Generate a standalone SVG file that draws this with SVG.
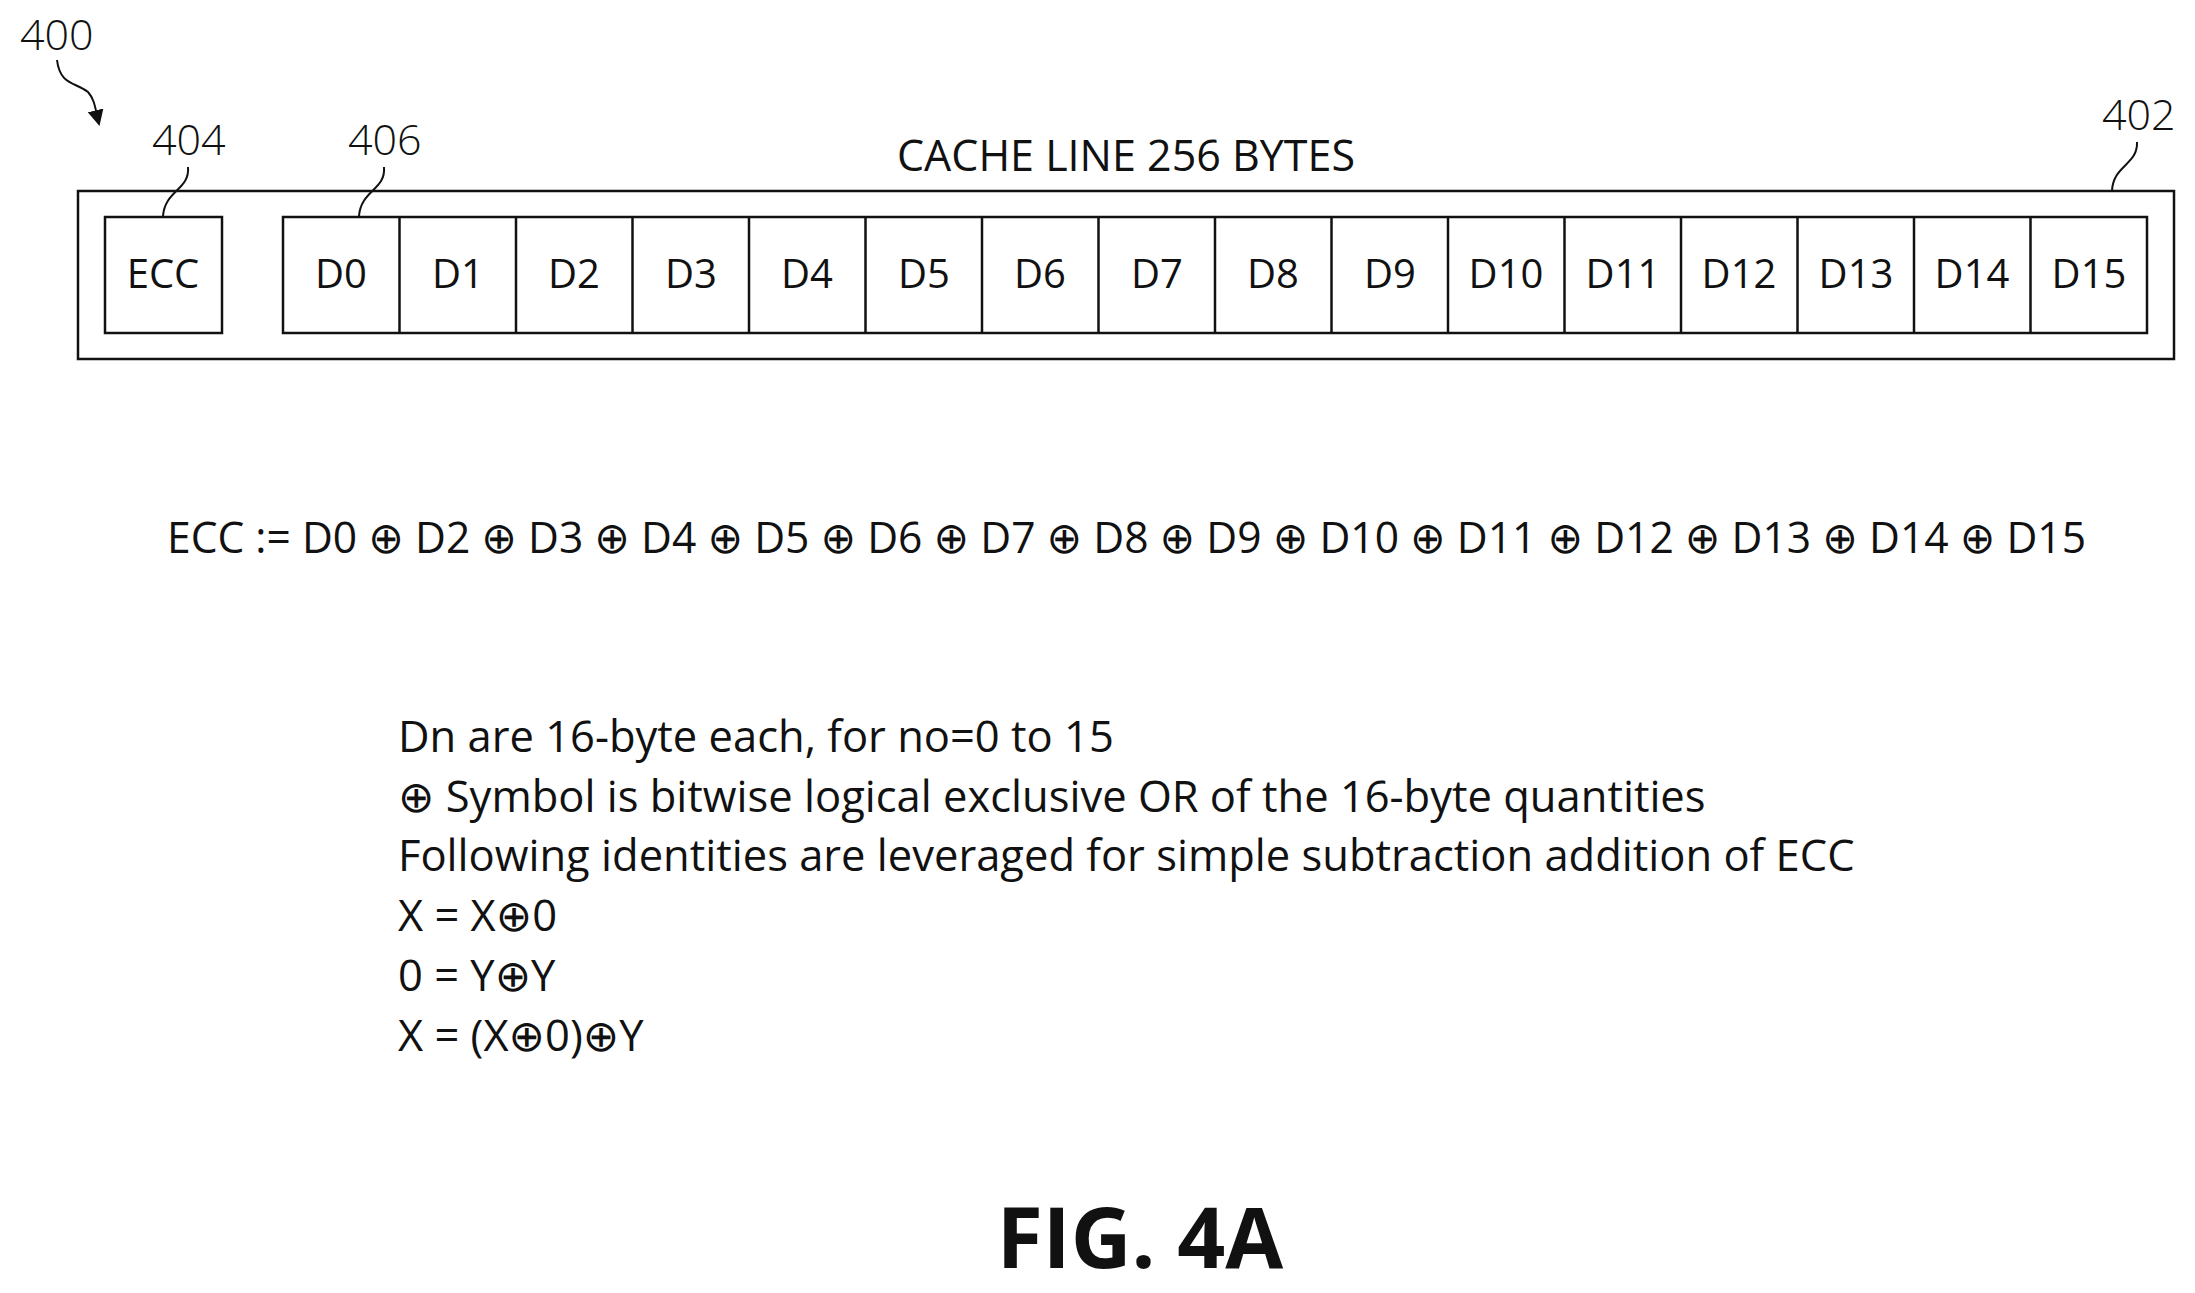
<svg xmlns="http://www.w3.org/2000/svg" width="2195" height="1293" viewBox="0 0 2195 1293">
<style>
text{font-family:"Open Sans","Liberation Sans","DejaVu Sans",sans-serif;fill:#111}
.c{font-size:40px;text-anchor:middle}
.l{font-size:43px;font-weight:300}
.b{fill:#fff;stroke:#111;stroke-width:2.5}
.ld{fill:none;stroke:#111;stroke-width:2}
.t{font-size:43.5px}
</style>
<defs><marker id="ah" markerWidth="16" markerHeight="16" refX="14" refY="8" orient="auto" markerUnits="userSpaceOnUse"><path d="M0,0 L16,8 L0,16 z" fill="#111"/></marker></defs>
<rect width="2195" height="1293" fill="#fff"/>
<g id="cacheline"><rect class="b" x="78" y="191" width="2096" height="168" stroke-width="3"/></g>
<g id="ecc"><rect class="b" x="105" y="217" width="117" height="116"/><text class="c" x="163" y="288">ECC</text></g>
<g id="data">
<rect class="b" x="283" y="217" width="1864" height="116"/>
<g stroke="#111" stroke-width="2.5">
<line x1="399.5" y1="217" x2="399.5" y2="333"/><line x1="516" y1="217" x2="516" y2="333"/><line x1="632.5" y1="217" x2="632.5" y2="333"/><line x1="749" y1="217" x2="749" y2="333"/><line x1="865.5" y1="217" x2="865.5" y2="333"/><line x1="982" y1="217" x2="982" y2="333"/><line x1="1098.5" y1="217" x2="1098.5" y2="333"/><line x1="1215" y1="217" x2="1215" y2="333"/><line x1="1331.5" y1="217" x2="1331.5" y2="333"/><line x1="1448" y1="217" x2="1448" y2="333"/><line x1="1564.5" y1="217" x2="1564.5" y2="333"/><line x1="1681" y1="217" x2="1681" y2="333"/><line x1="1797.5" y1="217" x2="1797.5" y2="333"/><line x1="1914" y1="217" x2="1914" y2="333"/><line x1="2030.5" y1="217" x2="2030.5" y2="333"/>
</g>
<text class="c" x="341" y="288">D0</text><text class="c" x="458" y="288">D1</text><text class="c" x="574" y="288">D2</text><text class="c" x="691" y="288">D3</text><text class="c" x="807" y="288">D4</text><text class="c" x="924" y="288">D5</text><text class="c" x="1040" y="288">D6</text><text class="c" x="1157" y="288">D7</text><text class="c" x="1273" y="288">D8</text><text class="c" x="1390" y="288">D9</text><text class="c" x="1506" y="288">D10</text><text class="c" x="1623" y="288">D11</text><text class="c" x="1739" y="288">D12</text><text class="c" x="1856" y="288">D13</text><text class="c" x="1972" y="288">D14</text><text class="c" x="2089" y="288">D15</text>
</g>
<g id="labels">
<text class="l" x="20" y="50">400</text>
<text class="l" x="152" y="155">404</text>
<text class="l" x="348" y="155">406</text>
<text class="l" x="2102" y="130">402</text>
<text class="c" x="1126" y="171" style="font-size:43px">CACHE LINE 256 BYTES</text>
</g>
<g id="connectors">
<path class="ld" d="M57,60 C60,85 75,82 88,92 C95,100 95,108 99,124" marker-end="url(#ah)"/>
<path class="ld" d="M188,167 C190,190 165,190 163,216"/>
<path class="ld" d="M384,167 C386,190 361,190 359,216"/>
<path class="ld" d="M2137,142 C2138,165 2113,165 2112,191"/>
</g>
<g id="equation"><text class="t" x="167" y="553" textLength="1919" lengthAdjust="spacingAndGlyphs">ECC := D0 ⊕ D2 ⊕ D3 ⊕ D4 ⊕ D5 ⊕ D6 ⊕ D7 ⊕ D8 ⊕ D9 ⊕ D10 ⊕ D11 ⊕ D12 ⊕ D13 ⊕ D14 ⊕ D15</text></g>
<g id="notes">
<text class="t" x="398" y="752">Dn are 16-byte each, for no=0 to 15</text>
<text class="t" x="398" y="812">⊕ Symbol is bitwise logical exclusive OR of the 16-byte quantities</text>
<text class="t" x="398" y="871">Following identities are leveraged for simple subtraction addition of ECC</text>
<text class="t" x="398" y="931">X = X⊕0</text>
<text class="t" x="398" y="991">0 = Y⊕Y</text>
<text class="t" x="398" y="1051">X = (X⊕0)⊕Y</text>
</g>
<g id="caption"><text x="1140" y="1268" style="font-size:84px;font-weight:bold;text-anchor:middle">FIG. 4A</text></g>
</svg>
